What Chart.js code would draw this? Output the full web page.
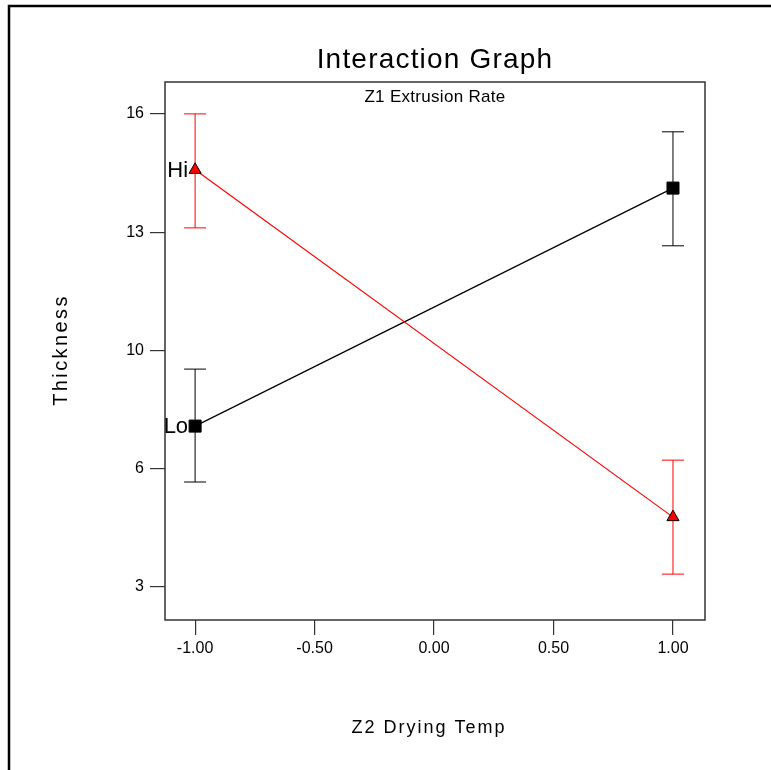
<!DOCTYPE html>
<html lang="en">
<head>
  <meta charset="UTF-8">
  <title>Interaction Graph</title>
  <style>
    body { margin: 0; background: #fff; }
    canvas { display: block; }
  </style>
</head>
<body>
  <canvas id="chart" width="771" height="770"></canvas>

  <script src="https://cdn.jsdelivr.net/npm/chart.js"></script>
  <script>
    // factor levels (Z2 Drying Temp, coded)
    const levels = [-1, 1];
    // Z1 Extrusion Rate = Hi
    const hiMean = [14.64, 4.95];
    const hiLow = [13.02, 3.36];
    const hiHigh = [16.2, 6.54];
    // Z1 Extrusion Rate = Lo
    const loMean = [7.49, 14.13];
    const loLow = [5.93, 12.52];
    const loHigh = [9.08, 15.70];

    const yTickVals = [3.0, 6.3, 9.6, 12.9, 16.2];
    const yTickLabels = ['3', '6', '10', '13', '16'];
    const xTickVals = [-1, -0.5, 0, 0.5, 1];
    const xTickLabels = ['-1.00', '-0.50', '0.00', '0.50', '1.00'];

    const FONT = '"Liberation Sans", Arial, sans-serif';

    // error bars, drawn under the markers
    const errorBars = {
      id: 'errorBars',
      beforeDatasetsDraw(chart) {
        const ctx = chart.ctx, xs = chart.scales.x, ys = chart.scales.y;
        const sets = [[hiLow, hiHigh, '#ff0000'], [loLow, loHigh, '#000000']];
        ctx.save();
        ctx.lineWidth = 1;
        sets.forEach(([lo, hi, col]) => {
          ctx.strokeStyle = col;
          levels.forEach((lv, i) => {
            const x = xs.getPixelForValue(lv);
            const y1 = ys.getPixelForValue(lo[i]);
            const y2 = ys.getPixelForValue(hi[i]);
            ctx.beginPath();
            ctx.moveTo(x, y1); ctx.lineTo(x, y2);
            ctx.moveTo(x - 11, y1); ctx.lineTo(x + 11, y1);
            ctx.moveTo(x - 11, y2); ctx.lineTo(x + 11, y2);
            ctx.stroke();
          });
        });
        ctx.restore();
      }
    };

    // frame, titles and labels
    const decor = {
      id: 'decor',
      afterDraw(chart) {
        const ctx = chart.ctx, a = chart.chartArea;
        const xs = chart.scales.x, ys = chart.scales.y;
        ctx.save();
        // outer frame (top and left only)
        ctx.strokeStyle = '#000';
        ctx.lineWidth = 2.5;
        ctx.beginPath();
        ctx.moveTo(771, 6); ctx.lineTo(9, 6); ctx.lineTo(9, 770);
        ctx.stroke();
        // plot box
        ctx.strokeStyle = '#333';
        ctx.lineWidth = 1.5;
        ctx.strokeRect(a.left, a.top, a.right - a.left, a.bottom - a.top);

        ctx.fillStyle = '#000';
        ctx.textAlign = 'center';
        ctx.textBaseline = 'middle';
        const cx = (a.left + a.right) / 2;
        ctx.font = '28px ' + FONT;
        ctx.letterSpacing = '1.2px';
        ctx.fillText('Interaction Graph', cx, 60);
        ctx.font = '17px ' + FONT;
        ctx.letterSpacing = '0.3px';
        ctx.fillText('Z1 Extrusion Rate', cx, 97);
        ctx.font = '18px ' + FONT;
        ctx.letterSpacing = '2px';
        ctx.fillText('Z2 Drying Temp', cx - 6, 728);
        ctx.save();
        ctx.translate(61, 350);
        ctx.rotate(-Math.PI / 2);
        ctx.font = '20px ' + FONT;
        ctx.letterSpacing = '2.4px';
        ctx.fillText('Thickness', 0, 0);
        ctx.restore();
        ctx.letterSpacing = '0px';

        // level labels beside the left markers
        ctx.font = '22px ' + FONT;
        ctx.textAlign = 'right';
        const x0 = xs.getPixelForValue(levels[0]) - 7;
        ctx.fillText('Hi', x0, ys.getPixelForValue(hiMean[0]) + 1);
        ctx.fillText('Lo', x0, ys.getPixelForValue(loMean[0]) + 1);
        ctx.restore();
      }
    };

    new Chart(document.getElementById('chart'), {
      type: 'scatter',
      data: {
        datasets: [
          {
            label: 'Hi',
            data: levels.map((x, i) => ({ x: x, y: hiMean[i] })),
            showLine: true,
            borderColor: '#ff0000',
            borderWidth: 1.2,
            backgroundColor: '#ff0000',
            pointStyle: 'triangle',
            pointRadius: 7,
            pointBorderColor: '#000',
            pointBorderWidth: 1
          },
          {
            label: 'Lo',
            data: levels.map((x, i) => ({ x: x, y: loMean[i] })),
            showLine: true,
            borderColor: '#000',
            borderWidth: 1.2,
            backgroundColor: '#000',
            pointStyle: 'rect',
            pointRadius: 8.5,
            pointBorderColor: '#000',
            pointBorderWidth: 1
          }
        ]
      },
      options: {
        responsive: false,
        animation: false,
        layout: { padding: { top: 82, right: 66, left: 0, bottom: 0 } },
        plugins: {
          legend: { display: false },
          tooltip: { enabled: false }
        },
        scales: {
          x: {
            type: 'linear',
            min: -1.126,
            max: 1.134,
            afterFit(s) { s.height = 150; },
            afterBuildTicks(s) { s.ticks = xTickVals.map(v => ({ value: v })); },
            grid: { drawOnChartArea: false, tickLength: 15, color: '#333', lineWidth: 1.2 },
            border: { display: false },
            ticks: {
              color: '#000',
              padding: 4,
              font: { family: FONT, size: 16 },
              maxRotation: 0,
              callback: (v, i) => xTickLabels[i]
            }
          },
          y: {
            type: 'linear',
            min: 2.08,
            max: 17.09,
            afterFit(s) { s.width = 165; },
            afterBuildTicks(s) { s.ticks = yTickVals.map(v => ({ value: v })); },
            grid: { drawOnChartArea: false, tickLength: 15, color: '#333', lineWidth: 1.2 },
            border: { display: false },
            ticks: {
              color: '#000',
              padding: 6,
              font: { family: FONT, size: 16 },
              callback: (v, i) => yTickLabels[i]
            }
          }
        }
      },
      plugins: [errorBars, decor]
    });
  </script>
</body>
</html>
